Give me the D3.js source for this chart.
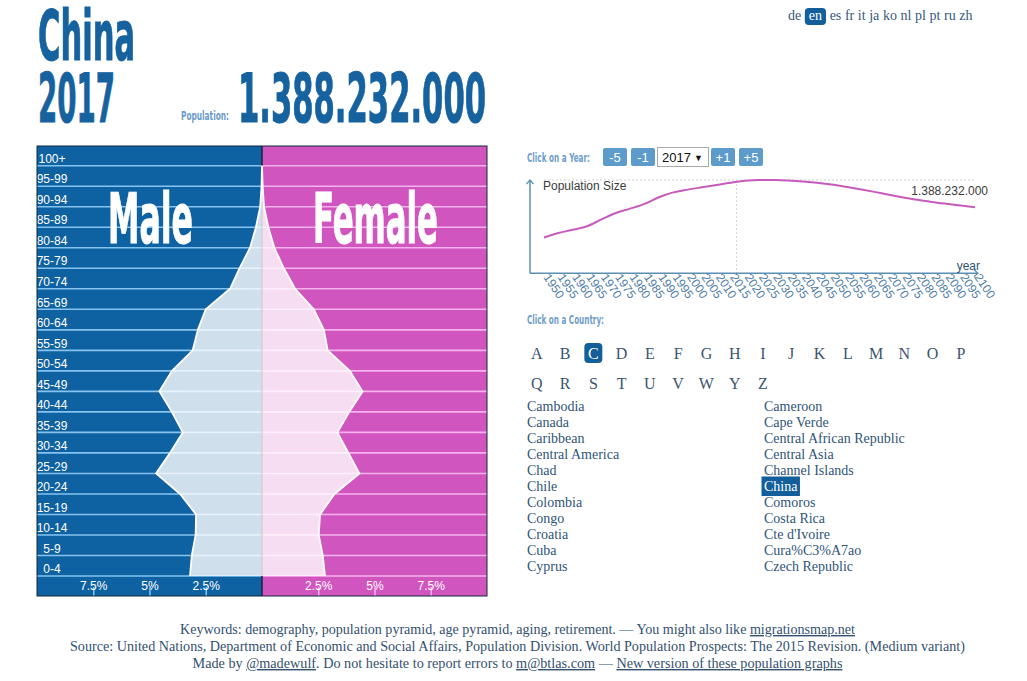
<!DOCTYPE html>
<html><head><meta charset="utf-8">
<script src="https://cdn.jsdelivr.net/npm/d3@7"></script>
<style>
body{margin:0;background:#fff;}
svg{display:block;}
</style></head><body>
<svg id="chart" width="1027" height="681"></svg>
<script>
// ---------- data ----------
const ageGroups = ["0-4","5-9","10-14","15-19","20-24","25-29","30-34","35-39","40-44","45-49","50-54","55-59","60-64","65-69","70-74","75-79","80-84","85-89","90-94","95-99","100+"];
const malePct   = [3.2,3.12,2.95,2.93,3.64,4.71,4.09,3.52,4.01,4.56,4.0,3.08,2.85,2.5,1.42,1.0,0.53,0.27,0.08,0.02,0.0];
const femalePct = [2.8,2.7,2.52,2.58,3.22,4.33,3.84,3.35,3.88,4.47,3.9,2.92,2.75,2.3,1.47,0.97,0.55,0.28,0.09,0.03,0.0];
const pctTicks = [2.5,5,7.5];
const years = [1950,1955,1960,1965,1970,1975,1980,1985,1990,1995,2000,2005,2010,2015,2020,2025,2030,2035,2040,2045,2050,2055,2060,2065,2070,2075,2080,2085,2090,2095,2100];
const populationM = [544,612,660,715,818,916,981,1053,1155,1228,1270,1306,1341,1376,1403,1415,1416,1408,1395,1374,1348,1314,1277,1236,1193,1152,1116,1083,1055,1029,1004];
const currentYear = 2017;
const currentPopText = "1.388.232.000";
const country = "China";
const languages = ["de","en","es","fr","it","ja","ko","nl","pl","pt","ru","zh"];
const activeLang = "en";
const lettersRow1 = ["A","B","C","D","E","F","G","H","I","J","K","L","M","N","O","P"];
const lettersRow2 = ["Q","R","S","T","U","V","W","Y","Z"];
const activeLetter = "C";
const countriesCol1 = ["Cambodia","Canada","Caribbean","Central America","Chad","Chile","Colombia","Congo","Croatia","Cuba","Cyprus"];
const countriesCol2 = ["Cameroon","Cape Verde","Central African Republic","Central Asia","Channel Islands","China","Comoros","Costa Rica","Cte d'Ivoire","Cura%C3%A7ao","Czech Republic"];
const yearButtons = ["-5","-1","+1","+5"];

// ---------- styles ----------
const BLUE = "#0f62a1", PINK = "#d155be", DARK = "#135f9b";
const COND = "'Liberation Sans Narrow','Arial Narrow','DejaVu Sans Condensed',sans-serif";
const SERIF = "'Liberation Serif','Times New Roman',serif";
const SANS = "'Liberation Sans',Arial,sans-serif";

const svg = d3.select("#chart");

// ---------- title ----------
svg.append("text").attr("x",38).attr("y",60).attr("font-family",COND).attr("font-weight","bold")
  .attr("font-size",69).attr("fill","#16629f").attr("stroke","#16629f").attr("stroke-width",1)
  .attr("textLength",97).attr("lengthAdjust","spacingAndGlyphs").text(country);
svg.append("text").attr("x",38).attr("y",122).attr("font-family",COND).attr("font-weight","bold")
  .attr("font-size",68).attr("fill","#16629f").attr("stroke","#16629f").attr("stroke-width",1)
  .attr("textLength",77).attr("lengthAdjust","spacingAndGlyphs").text(currentYear);
svg.append("text").attr("x",181).attr("y",120).attr("font-family",COND).attr("font-weight","bold")
  .attr("font-size",13).attr("fill","#6b9acb").attr("textLength",48).attr("lengthAdjust","spacingAndGlyphs").text("Population:");
svg.append("text").attr("x",238).attr("y",122).attr("font-family",COND).attr("font-weight","bold")
  .attr("font-size",68).attr("fill","#16629f").attr("stroke","#16629f").attr("stroke-width",1)
  .attr("textLength",248).attr("lengthAdjust","spacingAndGlyphs").text(currentPopText);

// ---------- languages ----------
{
  let lx = 788;
  const g = svg.append("g");
  languages.forEach(l => {
    const t = g.append("text").attr("y",20).attr("font-family",SERIF).attr("font-size",14)
      .attr("fill", l===activeLang ? "#fff" : "#35587c").text(l);
    const pad = l===activeLang ? 4 : 0;
    t.attr("x", lx + pad);
    const w = t.node().getComputedTextLength();
    if (l===activeLang) {
      g.insert("rect","text").attr("x",lx).attr("y",8).attr("width",w+2*pad).attr("height",17).attr("rx",4).attr("fill",DARK);
    }
    lx += w + 2*pad + 3.6;
  });
}

// ---------- pyramid ----------
const P = {left:37, right:487, top:146, bandBottom:576, bottom:596};
const center = (P.left+P.right)/2;
const half = center - P.left;
const ageScale = d3.scaleBand().domain(ageGroups.slice().reverse()).range([P.top-0.8, P.bandBottom]).padding(0);
const bw = ageScale.bandwidth();
const yb = a => ageScale(a) + bw;
const xL = d3.scaleLinear().domain([0,10]).range([center, P.left]);
const xR = d3.scaleLinear().domain([0,10]).range([center, P.right]);

const pg = svg.append("g");
pg.append("rect").attr("x",P.left).attr("y",P.top).attr("width",half).attr("height",P.bottom-P.top).attr("fill",BLUE);
pg.append("rect").attr("x",center).attr("y",P.top).attr("width",half).attr("height",P.bottom-P.top).attr("fill",PINK);

// row separators
pg.selectAll("line.sepL").data(ageGroups).join("line").attr("class","sepL")
  .attr("x1",P.left).attr("x2",center).attr("y1",d=>yb(d)).attr("y2",d=>yb(d))
  .attr("stroke","#86c3f0").attr("stroke-width",1.6);
pg.selectAll("line.sepR").data(ageGroups).join("line").attr("class","sepR")
  .attr("x1",center).attr("x2",P.right).attr("y1",d=>yb(d)).attr("y2",d=>yb(d))
  .attr("stroke","#f6b2ee").attr("stroke-width",1.6);

// centre line
pg.append("line").attr("x1",center).attr("x2",center).attr("y1",P.top).attr("y2",P.bottom)
  .attr("stroke","#1c2230").attr("stroke-width",1.5);

const maleData = ageGroups.map((a,i)=>({a, v:malePct[i]}));
const femaleData = ageGroups.map((a,i)=>({a, v:femalePct[i]}));

const areaL = d3.area().x0(center).x1(d=>xL(d.v)).y(d=>yb(d.a));
const areaR = d3.area().x0(center).x1(d=>xR(d.v)).y(d=>yb(d.a));
pg.append("path").attr("d",areaL(maleData)).attr("fill","#fff").attr("fill-opacity",0.8);
pg.append("path").attr("d",areaR(femaleData)).attr("fill","#fff").attr("fill-opacity",0.8);
pg.append("path").attr("d",d3.line().x(d=>xL(d.v)).y(d=>yb(d.a))(maleData))
  .attr("fill","none").attr("stroke","#fff").attr("stroke-width",1.8);
pg.append("path").attr("d",d3.line().x(d=>xR(d.v)).y(d=>yb(d.a))(femaleData))
  .attr("fill","none").attr("stroke","#fff").attr("stroke-width",1.8);

// age labels
pg.selectAll("text.age").data(ageGroups).join("text").attr("class","age")
  .attr("x",52).attr("y",d=>yb(d)-2.8).attr("text-anchor","middle")
  .attr("font-family",SANS).attr("font-size",12).attr("fill","#fff").text(d=>d);

// Male / Female labels
pg.append("text").attr("x",108).attr("y",243).attr("font-family",COND).attr("font-weight","bold")
  .attr("font-size",69).attr("fill","#fff").attr("stroke","#fff").attr("stroke-width",1)
  .attr("textLength",85).attr("lengthAdjust","spacingAndGlyphs").text("Male");
pg.append("text").attr("x",313).attr("y",243).attr("font-family",COND).attr("font-weight","bold")
  .attr("font-size",69).attr("fill","#fff").attr("stroke","#fff").attr("stroke-width",1)
  .attr("textLength",125).attr("lengthAdjust","spacingAndGlyphs").text("Female");

// axes
function styleAxis(g, col){
  g.select(".domain").remove();
  g.selectAll(".tick line").attr("stroke",col).attr("stroke-width",1.5);
  g.selectAll(".tick text").attr("fill","#fff").attr("font-family",SANS).attr("font-size",12);
}
const axL = d3.axisTop(xL).tickValues(pctTicks).tickFormat(d=>d+"%").tickSize(9).tickPadding(-3);
const axR = d3.axisTop(xR).tickValues(pctTicks).tickFormat(d=>d+"%").tickSize(9).tickPadding(-3);
pg.append("g").attr("transform",`translate(0,${P.bottom})`).call(axL).call(g=>styleAxis(g,"#86c3f0"));
pg.append("g").attr("transform",`translate(0,${P.bottom})`).call(axR).call(g=>styleAxis(g,"#f6b2ee"));
pg.selectAll(".tick text").raise();

pg.append("rect").attr("x",P.left).attr("y",P.top).attr("width",P.right-P.left).attr("height",P.bottom-P.top)
  .attr("fill","none").attr("stroke","#14283e").attr("stroke-width",1);

// ---------- year controls ----------
const LBL = "#6f9dca";
svg.append("text").attr("x",527).attr("y",162).attr("font-family",COND).attr("font-weight","bold").attr("font-size",13)
  .attr("fill",LBL).attr("textLength",63).attr("lengthAdjust","spacingAndGlyphs").text("Click on a Year:");
const btnX = [603,631,711,739], btnW = [24,24,24,24];
yearButtons.forEach((b,i)=>{
  svg.append("rect").attr("x",btnX[i]).attr("y",148).attr("width",btnW[i]).attr("height",18).attr("rx",2).attr("fill","#5d9bca");
  svg.append("text").attr("x",btnX[i]+btnW[i]/2).attr("y",161.5).attr("text-anchor","middle")
    .attr("font-family",SANS).attr("font-size",13).attr("fill","#fff").text(b);
});
svg.append("rect").attr("x",657.5).attr("y",147.5).attr("width",51).attr("height",19).attr("fill","#fff").attr("stroke","#a9a9a9");
svg.append("text").attr("x",662).attr("y",162).attr("font-family",SANS).attr("font-size",13).attr("fill","#111").text(currentYear);
svg.append("text").attr("x",694).attr("y",160.5).attr("font-family",SANS).attr("font-size",9).attr("fill","#111").text("▼");

// ---------- population line chart ----------
const L = {x0:530, y0:273.3, top:180};
const xs = d3.scaleLinear().domain([d3.min(years), d3.max(years)]).range([544,975]);
const ys = d3.scaleLinear().domain([0, d3.max(populationM)]).range([L.y0, L.top]);
const lg = svg.append("g");
const AX = "#5b8fb0";
lg.append("line").attr("x1",xs(d3.min(years))).attr("x2",975).attr("y1",ys(d3.max(populationM))).attr("y2",ys(d3.max(populationM)))
  .attr("stroke","#cfcfcf").attr("stroke-dasharray","2,2");
lg.append("line").attr("x1",xs(currentYear)).attr("x2",xs(currentYear)).attr("y1",L.top).attr("y2",L.y0)
  .attr("stroke","#d5d5d5").attr("stroke-dasharray","2,2");
lg.append("line").attr("x1",L.x0).attr("x2",L.x0).attr("y1",L.y0).attr("y2",L.top).attr("stroke",AX).attr("stroke-width",1.5);
lg.append("path").attr("d",`M${L.x0-3.5},${L.top+4}L${L.x0},${L.top}L${L.x0+3.5},${L.top+4}`).attr("fill","none").attr("stroke",AX).attr("stroke-width",1.2);
lg.append("line").attr("x1",L.x0).attr("x2",978).attr("y1",L.y0).attr("y2",L.y0).attr("stroke",AX).attr("stroke-width",1.5);
lg.append("path").attr("d",`M974,${L.y0-3.5}L978,${L.y0}L974,${L.y0+3.5}`).attr("fill","none").attr("stroke",AX).attr("stroke-width",1.2);

lg.append("path").datum(years.map((y,i)=>[y,populationM[i]]))
  .attr("d",d3.line().x(d=>xs(d[0])).y(d=>ys(d[1])).curve(d3.curveMonotoneX))
  .attr("fill","none").attr("stroke","#c75bbd").attr("stroke-width",2);

lg.selectAll("text.yr").data(years).join("text").attr("class","yr")
  .attr("transform",d=>`translate(${xs(d)-1},${L.y0+4}) rotate(56)`)
  .attr("font-family",SANS).attr("font-size",12).attr("fill","#4e7da6").text(d=>d);
lg.append("text").attr("x",543).attr("y",190).attr("font-family",SANS).attr("font-size",12).attr("fill","#3b3b3b").text("Population Size");
lg.append("text").attr("x",988).attr("y",195).attr("text-anchor","end").attr("font-family",SANS).attr("font-size",12).attr("fill","#3b3b3b").text(currentPopText);
lg.append("text").attr("x",980).attr("y",270).attr("text-anchor","end").attr("font-family",SANS).attr("font-size",12).attr("fill","#2e5273").text("year");

// ---------- country selector ----------
svg.append("text").attr("x",527).attr("y",324).attr("font-family",COND).attr("font-weight","bold").attr("font-size",13)
  .attr("fill",LBL).attr("textLength",77).attr("lengthAdjust","spacingAndGlyphs").text("Click on a Country:");
const letterX = i => 536.8 + i*28.27;
[[lettersRow1,358.5],[lettersRow2,388.5]].forEach(([row,y])=>{
  row.forEach((c,i)=>{
    if (c===activeLetter) svg.append("rect").attr("x",letterX(i)-9).attr("y",y-15.5).attr("width",18).attr("height",20).attr("rx",4).attr("fill",DARK);
    svg.append("text").attr("x",letterX(i)).attr("y",y).attr("text-anchor","middle").attr("font-family",SERIF)
      .attr("font-size",16).attr("fill",c===activeLetter?"#fff":"#3a5470").text(c);
  });
});
[[countriesCol1,527],[countriesCol2,764]].forEach(([col,x])=>{
  col.forEach((c,i)=>{
    const y = 410.5 + i*16;
    const t = svg.append("text").attr("x",x).attr("y",y).attr("font-family",SERIF).attr("font-size",14)
      .attr("fill",c===country?"#fff":"#2f5478").text(c);
    if (c===country){
      const w = t.node().getComputedTextLength();
      svg.insert("rect","text").attr("x",x-2.5).attr("y",y-14).attr("width",w+5).attr("height",19.5).attr("fill",DARK);
    }
  });
});

// ---------- footer ----------
const FOOT = "#33506f";
function footer(y, parts, len){
  const t = svg.append("text").attr("x",517.5).attr("y",y).attr("text-anchor","middle").attr("font-family",SERIF)
    .attr("font-size",14).attr("fill",FOOT).attr("textLength",len).attr("lengthAdjust","spacingAndGlyphs");
  parts.forEach(p=>{
    const s = t.append("tspan").text(p.t);
    if (p.u) s.style("text-decoration","underline");
  });
}
footer(634,[{t:"Keywords: demography, population pyramid, age pyramid, aging, retirement. — You might also like "},{t:"migrationsmap.net",u:1}],675);
footer(651,[{t:"Source: United Nations, Department of Economic and Social Affairs, Population Division. World Population Prospects: The 2015 Revision. (Medium variant)"}],895);
footer(668,[{t:"Made by "},{t:"@madewulf",u:1},{t:". Do not hesitate to report errors to "},{t:"m@btlas.com",u:1},{t:" — "},{t:"New version of these population graphs",u:1}],650);
</script>
</body></html>
